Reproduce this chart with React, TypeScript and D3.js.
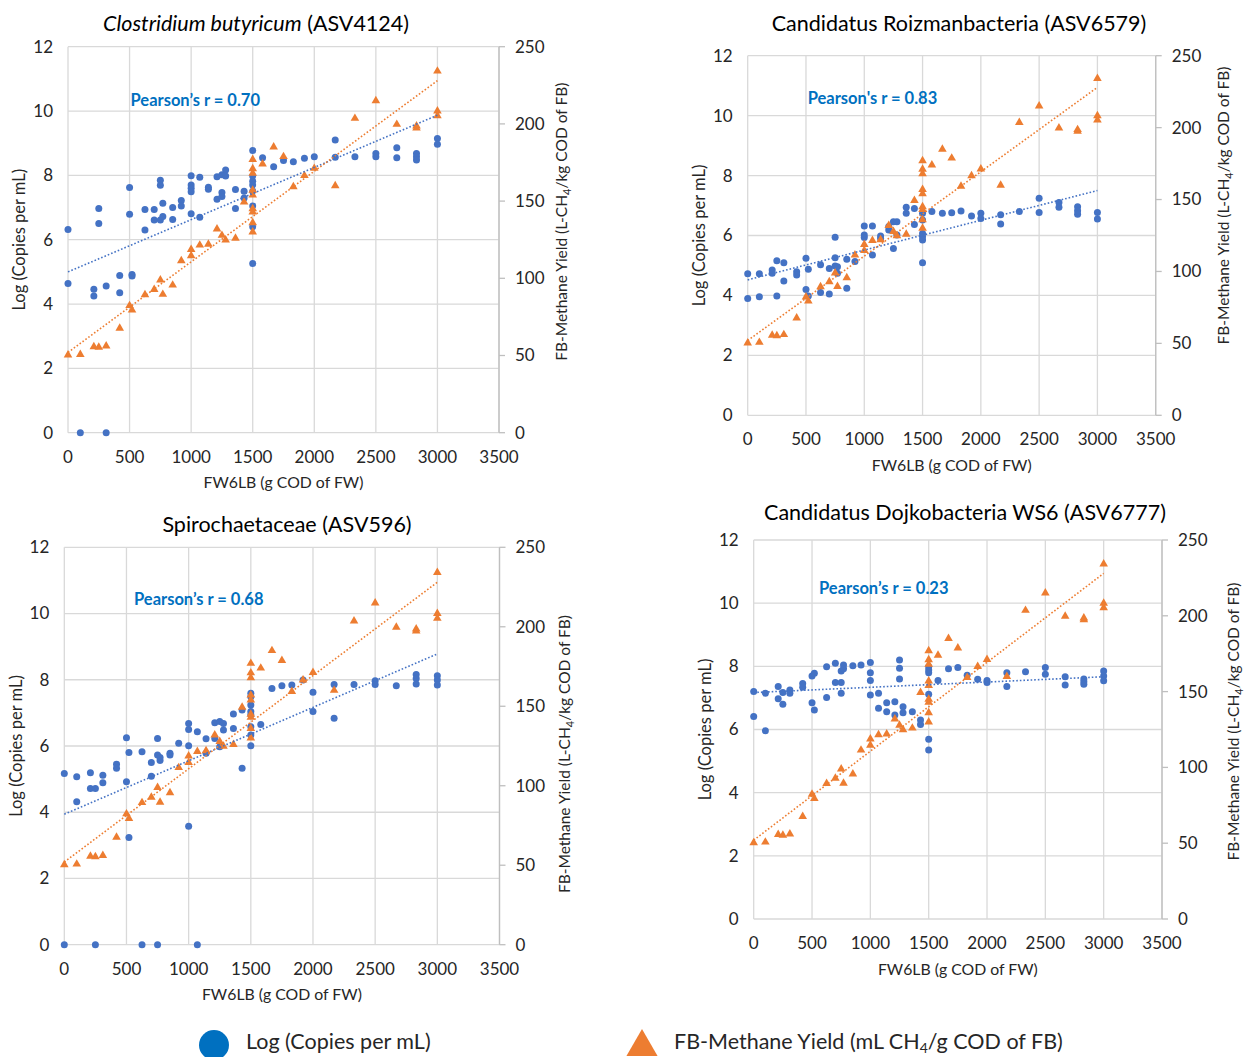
import React, { useEffect } from 'react';
import * as d3 from 'd3';

const doseTicks = [0, 500, 1000, 1500, 2000, 2500, 3000, 3500];
const copiesTicks = [0, 2, 4, 6, 8, 10, 12];
const yieldTicks = [0, 50, 100, 150, 200, 250];

// FB-methane yield vs FW6LB dose (the same in every panel)
const methane: [number, number][] = [
  [0, 50.3], [100, 50.7], [210, 55.7], [250, 55.3], [310, 56.1], [420, 67.6],
  [500, 82.3], [520, 79.4], [625, 89.4], [700, 92.8], [750, 98.9], [770, 89.6],
  [850, 95.6], [920, 111.4], [1000, 118.7], [1000, 114.6], [1070, 121.5], [1140, 122],
  [1210, 131.9], [1250, 127.8], [1280, 124.8], [1360, 125.9], [1430, 149.4],
  [1500, 177], [1500, 171], [1500, 168], [1500, 157], [1500, 154], [1500, 145],
  [1500, 143], [1500, 136], [1500, 130], [1580, 174], [1670, 185], [1750, 178.8],
  [1830, 159.3], [1920, 166.5], [2000, 171.2], [2170, 160], [2330, 203.6], [2500, 215],
  [2670, 199.7], [2830, 198.6], [2830, 197.4], [3000, 234.2], [3000, 208.3], [3000, 205.3],
];
const methaneTrend = [52, 228]; // at dose 0 and 3000

// Log (copies per mL) per ASV
const asv4124: [number, number][] = [
  [0, 6.32], [0, 4.64], [100, 0], [210, 4.46], [210, 4.25], [250, 6.97], [250, 6.5],
  [310, 4.56], [310, 0], [420, 4.89], [420, 4.35], [500, 7.62], [500, 6.79], [520, 4.92],
  [520, 4.87], [625, 6.94], [625, 6.3], [700, 6.94], [700, 6.61], [750, 7.85], [750, 7.69],
  [750, 6.61], [770, 7.13], [770, 6.72], [850, 7.0], [850, 6.63], [920, 7.22], [920, 7.05],
  [1000, 7.99], [1000, 7.7], [1000, 7.6], [1000, 7.49], [1000, 6.81], [1070, 7.94], [1070, 6.7],
  [1140, 7.63], [1140, 7.57], [1210, 7.96], [1210, 7.26], [1250, 8.02], [1250, 7.47], [1250, 7.34],
  [1280, 8.17], [1280, 7.98], [1360, 7.56], [1360, 6.97], [1430, 7.51], [1430, 7.3],
  [1500, 8.77], [1500, 7.98], [1500, 7.82], [1500, 7.7], [1500, 7.51], [1500, 7.05], [1500, 6.4],
  [1500, 5.26], [1580, 8.55], [1670, 8.27], [1750, 8.46], [1830, 8.42], [1920, 8.53], [2000, 8.58],
  [2170, 9.1], [2170, 8.56], [2330, 8.58], [2500, 8.68], [2500, 8.58], [2670, 8.86], [2670, 8.55],
  [2830, 8.68], [2830, 8.58], [2830, 8.48], [3000, 9.15], [3000, 8.97],
];
const asv6579: [number, number][] = [
  [0, 4.72], [0, 3.9], [100, 4.72], [100, 3.96], [210, 4.85], [210, 4.74], [250, 5.16], [250, 3.98],
  [310, 5.09], [310, 4.48], [420, 4.79], [420, 4.68], [500, 5.24], [500, 4.2], [520, 4.87], [520, 3.98],
  [625, 5.02], [625, 4.1], [700, 4.9], [700, 4.05], [750, 5.94], [750, 5.26], [750, 4.98], [770, 4.96],
  [770, 4.74], [850, 5.21], [850, 4.24], [920, 5.13], [1000, 6.32], [1000, 6.02], [1000, 5.93],
  [1070, 6.32], [1070, 5.35], [1140, 5.98], [1140, 5.9], [1210, 6.18], [1210, 6.3], [1250, 6.46],
  [1250, 5.57], [1280, 6.46], [1280, 6.02], [1360, 6.94], [1360, 6.74], [1430, 6.9], [1430, 6.37],
  [1500, 6.74], [1500, 6.52], [1500, 6.07], [1500, 5.96], [1500, 5.85], [1500, 5.09], [1580, 6.8],
  [1670, 6.74], [1750, 6.76], [1830, 6.82], [1920, 6.65], [2000, 6.74], [2000, 6.57], [2170, 6.69],
  [2170, 6.38], [2330, 6.8], [2500, 7.24], [2500, 6.77], [2670, 7.1], [2670, 6.94], [2830, 6.96],
  [2830, 6.83], [2830, 6.71], [3000, 6.77], [3000, 6.55],
];
const asv596: [number, number][] = [
  [0, 5.17], [0, 0], [100, 5.07], [100, 4.32], [210, 5.19], [210, 4.72], [250, 4.72], [250, 0],
  [310, 5.12], [310, 4.89], [420, 5.45], [420, 5.33], [500, 6.25], [500, 4.92], [520, 5.8], [520, 3.24],
  [625, 5.83], [625, 0], [700, 5.5], [700, 5.09], [750, 6.23], [750, 5.73], [750, 0], [770, 5.65],
  [770, 5.56], [850, 5.78], [850, 5.73], [920, 6.08], [1000, 6.68], [1000, 6.5], [1000, 6.01],
  [1000, 3.58], [1070, 6.43], [1070, 0], [1140, 6.22], [1140, 5.78], [1210, 6.7], [1210, 6.23],
  [1250, 6.74], [1250, 5.98], [1280, 6.68], [1280, 6.48], [1360, 6.97], [1360, 6.53], [1430, 7.09],
  [1430, 5.33], [1500, 7.59], [1500, 7.49], [1500, 7.24], [1500, 7.04], [1500, 6.94], [1500, 6.58],
  [1500, 6.33], [1500, 6.01], [1580, 6.65], [1670, 7.74], [1750, 7.82], [1830, 7.84], [1920, 7.99],
  [2000, 7.62], [2000, 7.04], [2170, 7.86], [2170, 6.84], [2330, 7.86], [2500, 7.97], [2500, 7.86],
  [2670, 7.82], [2830, 8.16], [2830, 8.04], [2830, 7.87], [3000, 8.12], [3000, 7.99], [3000, 7.84],
];
const asv6777: [number, number][] = [
  [0, 7.2], [0, 6.41], [100, 7.15], [100, 5.96], [210, 7.36], [210, 6.97], [250, 7.17], [250, 6.8],
  [310, 7.25], [310, 7.15], [420, 7.46], [420, 7.34], [500, 7.69], [500, 6.85], [520, 7.78], [520, 6.62],
  [625, 7.99], [625, 7.01], [700, 8.1], [700, 7.49], [750, 7.85], [750, 7.49], [750, 7.15], [770, 8.04],
  [770, 7.92], [850, 8.02], [920, 8.04], [1000, 8.12], [1000, 7.8], [1000, 7.55], [1000, 7.09],
  [1070, 7.15], [1070, 6.67], [1140, 6.85], [1140, 6.56], [1210, 6.88], [1210, 6.46], [1250, 8.2],
  [1250, 7.94], [1250, 7.6], [1280, 6.72], [1280, 6.53], [1360, 6.56], [1430, 6.3], [1430, 6.16],
  [1500, 7.99], [1500, 7.88], [1500, 7.8], [1500, 7.12], [1500, 5.69], [1500, 5.35], [1580, 7.55],
  [1670, 7.92], [1750, 7.96], [1830, 7.72], [1920, 7.59], [2000, 7.55], [2000, 7.49], [2170, 7.8],
  [2170, 7.36], [2330, 7.83], [2500, 7.96], [2500, 7.75], [2670, 7.67], [2670, 7.41], [2830, 7.6],
  [2830, 7.51], [2830, 7.43], [3000, 7.85], [3000, 7.69], [3000, 7.54],
];

const titlesItalic = ['Clostridium butyricum', '', '', ''];
const titlesPlain = [' (ASV4124)', 'Candidatus Roizmanbacteria (ASV6579)', 'Spirochaetaceae (ASV596)', 'Candidatus Dojkobacteria WS6 (ASV6777)'];
const pearsonLabels = ['Pearson’s r = 0.70', "Pearson's r = 0.83", 'Pearson’s r = 0.68', 'Pearson’s r = 0.23'];
const copiesSeries = [asv4124, asv6579, asv596, asv6777];
const copiesTrends = [[5.0, 9.87], [4.52, 7.5], [3.94, 8.78], [7.17, 7.67]]; // at dose 0 and 3000

const layout = [
  { left: 68, top: 46.7, right: 499, bottom: 432.7, tx: 256, ty: 31, rdx: 63, rdy: -18, px: 130.5, py: 100 },
  { left: 747.7, top: 55.7, right: 1155.7, bottom: 415.3, tx: 959, ty: 31, rdx: 68, rdy: -30, px: 807.7, py: 98 },
  { left: 64.3, top: 547.3, right: 499.5, bottom: 944.7, tx: 287, ty: 532, rdx: 65, rdy: 8, px: 134, py: 599 },
  { left: 753.7, top: 540, right: 1162, bottom: 919, tx: 965, ty: 520, rdx: 72, rdy: -8, px: 819, py: 588 },
];

const BLUE = '#4472C4';
const ORANGE = '#ED7D31';
const GRID = '#d9d9d9';
const FONT = 'Lato, "Open Sans", sans-serif';

function Panel({ i }: { i: number }) {
  const L = layout[i];
  const x = d3.scaleLinear().domain([0, 3500]).range([L.left, L.right]);
  const y = d3.scaleLinear().domain([0, 12]).range([L.bottom, L.top]);
  const y2 = d3.scaleLinear().domain([0, 250]).range([L.bottom, L.top]);
  const tri = d3.symbol().type(d3.symbolTriangle).size(32)();
  const midY = (L.top + L.bottom) / 2;
  const ct = copiesTrends[i];
  return (
    <g fontFamily={FONT}>
      {copiesTicks.map(t => (
        <line key={'h' + t} x1={L.left} x2={L.right} y1={y(t)} y2={y(t)} stroke={GRID} strokeWidth={1.3} />
      ))}
      {doseTicks.map(t => (
        <line key={'v' + t} x1={x(t)} x2={x(t)} y1={L.top} y2={L.bottom} stroke={GRID} strokeWidth={1.3} />
      ))}
      <line x1={L.right} x2={L.right} y1={L.top} y2={L.bottom} stroke="#bfbfbf" strokeWidth={1.3} />
      {yieldTicks.map(t => (
        <line key={'rt' + t} x1={L.right} x2={L.right + 6} y1={y2(t)} y2={y2(t)} stroke="#bfbfbf" strokeWidth={1.3} />
      ))}
      {copiesTicks.map(t => (
        <text key={'lt' + t} x={L.left - 15} y={y(t)} dy="0.35em" textAnchor="end" fontSize={17} fill="#262626">{t}</text>
      ))}
      {yieldTicks.map(t => (
        <text key={'rl' + t} x={L.right + 16} y={y2(t)} dy="0.35em" textAnchor="start" fontSize={17} fill="#262626">{t}</text>
      ))}
      {doseTicks.map(t => (
        <text key={'bt' + t} x={x(t)} y={L.bottom + 24} dy="0.35em" textAnchor="middle" fontSize={17} fill="#262626">{t}</text>
      ))}
      <text x={(L.left + L.right) / 2} y={L.bottom + 50} dy="0.35em" textAnchor="middle" fontSize={15.8} fill="#262626">FW6LB (g COD of FW)</text>
      <text transform={`translate(${L.left - 48.5},${midY}) rotate(-90)`} dy="0.35em" textAnchor="middle" fontSize={16.5} fill="#262626">Log (Copies per mL)</text>
      <text transform={`translate(${L.right + L.rdx},${midY + L.rdy}) rotate(-90)`} dy="0.35em" textAnchor="middle" fontSize={15.5} fill="#262626">
        FB-Methane Yield (L-CH<tspan dy="4" fontSize={11}>4</tspan><tspan dy="-4">/kg COD of FB)</tspan>
      </text>
      <text x={L.tx} y={L.ty} textAnchor="middle" fontSize={21.5} fill="#000">
        {titlesItalic[i] && <tspan fontStyle="italic">{titlesItalic[i]}</tspan>}
        {titlesPlain[i]}
      </text>
      {copiesSeries[i].map((d, k) => (
        <circle key={'c' + k} cx={x(d[0])} cy={y(d[1])} r={3.5} fill={BLUE} />
      ))}
      {methane.map((d, k) => (
        <path key={'t' + k} d={tri!} transform={`translate(${x(d[0])},${y2(d[1])})`} fill={ORANGE} />
      ))}
      <line x1={x(0)} x2={x(3000)} y1={y(ct[0])} y2={y(ct[1])} stroke={BLUE} strokeWidth={1.6} strokeDasharray="1.6,2" />
      <line x1={x(0)} x2={x(3000)} y1={y2(methaneTrend[0])} y2={y2(methaneTrend[1])} stroke={ORANGE} strokeWidth={1.6} strokeDasharray="1.6,2" />
      <text x={L.px} y={L.py} dy="0.35em" fontSize={16.5} fontWeight="bold" fill="#0070C0">{pearsonLabels[i]}</text>
    </g>
  );
}

export default function App() {
  useEffect(() => {
    document.body.style.margin = '0';
  }, []);
  const legendTri = d3.symbol().type(d3.symbolTriangle).size(420)();
  return (
    <svg width={1244} height={1057} style={{ display: 'block', background: '#fff' }}>
      {[0, 1, 2, 3].map(i => <Panel key={i} i={i} />)}
      <g fontFamily={FONT} fontSize={21.5} fill="#262626">
        <circle cx={214} cy={1045} r={15} fill="#0070C0" />
        <text x={246} y={1041} dy="0.35em">Log (Copies per mL)</text>
        <path d={legendTri!} transform="translate(642,1047)" fill={ORANGE} />
        <text x={674} y={1041} dy="0.35em">
          FB-Methane Yield (mL CH<tspan dy="4" fontSize={14}>4</tspan><tspan dy="-4">/g COD of FB)</tspan>
        </text>
      </g>
    </svg>
  );
}
